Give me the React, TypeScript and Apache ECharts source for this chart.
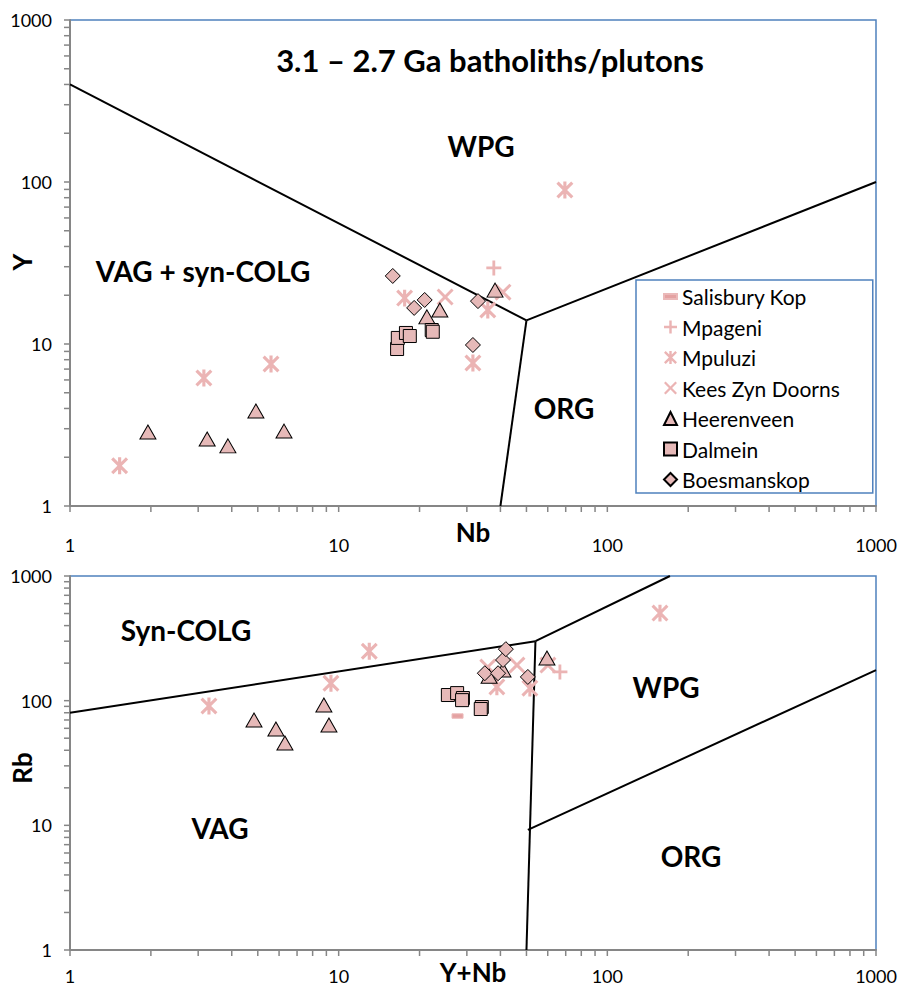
import React, { useEffect, useRef } from "react";
import * as echarts from "echarts";

// ---- Upper panel: Nb (x) vs Y (y) ----
const salisburyNb: number[] = [];
const salisburyY: number[] = [];
const mpageniNb = [37.8];
const mpageniY = [29.5];
const mpuluziNb = [1.53, 3.15, 5.6, 17.6, 35.9, 31.6, 69.5];
const mpuluziY = [1.77, 6.17, 7.53, 19.2, 16.2, 7.64, 89.3];
const keesNb = [24.9, 40.9];
const keesY = [19.5, 20.9];
const heerenveenNb = [1.95, 3.24, 3.87, 4.92, 6.26, 21.3, 23.8, 38.2];
const heerenveenY = [2.86, 2.59, 2.35, 3.86, 2.9, 14.7, 16.2, 21.5];
const dalmeinNb = [16.5, 16.6, 17.8, 18.4, 22.2, 22.4];
const dalmeinY = [9.31, 10.9, 11.7, 11.2, 12.2, 11.9];
const boesmanskopNb = [15.9, 20.9, 19.1, 33.0, 31.6];
const boesmanskopY = [26.3, 18.7, 16.7, 18.4, 9.86];

// ---- Lower panel: Y+Nb (x) vs Rb (y) ----
const salisburyYNb = [27.7];
const salisburyRb = [75.3];
const mpageniYNb = [66.6];
const mpageniRb = [170];
const mpuluziYNb = [3.29, 9.36, 13.0, 38.8, 51.5, 157];
const mpuluziRb = [90.5, 138, 249, 129, 126, 504];
const keesYNb = [35.9, 46.1, 60.1];
const keesRb = [186, 193, 193];
const heerenveenYNb = [4.84, 5.84, 6.31, 8.81, 9.2, 36.3, 40.9, 59.6];
const heerenveenRb = [69.9, 59.2, 45.7, 92.2, 63.7, 157, 176, 220];
const dalmeinYNb = [25.5, 27.6, 29.0, 28.8, 34.1, 33.8];
const dalmeinRb = [111, 115, 105, 101, 88.9, 85.7];
const boesmanskopYNb = [35.0, 39.2, 40.9, 41.9, 50.6];
const boesmanskopRb = [166, 166, 212, 259, 155];

// ---- Discrimination boundaries (Pearce et al. 1984) ----
const nbYBoundaries = [
  [[1, 400], [50, 14]],
  [[50, 14], [1000, 100]],
  [[50, 14], [40, 1]],
];
const ynbRbBoundaries = [
  [[1, 80], [54, 300]],
  [[54, 300], [171, 1000]],
  [[54, 300], [50, 1]],
  [[50.6, 9.2], [1000, 176]],
];

// log axis decades and the tick marks drawn along them
const tickValues = [1, 10, 100, 1000];
const tickMarks = [
  1, 2, 3, 4, 5, 6, 7, 8, 9,
  10, 20, 30, 40, 50, 60, 70, 80, 90,
  100, 200, 300, 400, 500, 600, 700, 800, 900,
  1000,
];

const seriesNames = [
  "Salisbury Kop",
  "Mpageni",
  "Mpuluzi",
  "Kees Zyn Doorns",
  "Heerenveen",
  "Dalmein",
  "Boesmanskop",
];

// symbol outlines
type Pt = [number, number];
const ring = (pts: Pt[]) =>
  "M" + pts.map((p) => p[0].toFixed(2) + "," + p[1].toFixed(2)).join("L") + "Z";
const plusPts = (h: number, L: number): Pt[] => [
  [h, -L], [h, -h], [L, -h], [L, h], [h, h], [h, L],
  [-h, L], [-h, h], [-L, h], [-L, -h], [-h, -h], [-h, -L],
];
const rot45 = (pts: Pt[]): Pt[] =>
  pts.map(([x, y]) => [(x - y) / Math.SQRT2, (x + y) / Math.SQRT2] as Pt);
const rectPts = (hw: number, hh: number): Pt[] => [
  [-hw, -hh], [hw, -hh], [hw, hh], [-hw, hh],
];

const PLUS = "path://" + ring(plusPts(1.5, 8));
const CROSS = "path://" + ring(rot45(plusPts(1.4, 10)));
const STAR = "path://" + ring(rot45(plusPts(1.5, 10))) + " " + ring(rectPts(1.5, 8.1));
const DASH = "path://" + ring(rectPts(5, 2));

const LINE_PINK = "#EBB4B4";
const FILL_PINK = "#E6B9B8";
const FONT = "Lato";
const AXIS_GRAY = "#868686";

const zip = (xs: number[], ys: number[]) => xs.map((x, i) => [x, ys[i]]);

function App() {
  const ref = useRef<HTMLDivElement>(null);

  useEffect(() => {
    if (!ref.current) return;
    const chart = echarts.init(ref.current, undefined, { renderer: "svg" });

    const logAxis = (gridIndex: number, labelMargin: number) => ({
      type: "log" as const,
      logBase: 10,
      min: tickValues[0],
      max: tickValues[tickValues.length - 1],
      gridIndex,
      axisLine: { show: true, onZero: false, lineStyle: { color: AXIS_GRAY, width: 2 } },
      axisTick: { show: false },
      minorTick: { show: false },
      splitLine: { show: false },
      minorSplitLine: { show: false },
      axisLabel: {
        fontFamily: FONT,
        fontSize: 18,
        color: "#000",
        margin: labelMargin,
        formatter: (v: number) => String(v),
      },
    });

    // tick marks on the outside of the left and bottom axes
    const tickSeries = (idx: number, dir: "x" | "y") => ({
      type: "custom" as const,
      xAxisIndex: idx,
      yAxisIndex: idx,
      silent: true,
      z: 4,
      data: tickMarks.map((v) => (dir === "x" ? [v, 1] : [1, v])),
      renderItem: (_params: any, api: any) => {
        const p = api.coord([api.value(0), api.value(1)]);
        const shape =
          dir === "x"
            ? { x1: p[0], y1: p[1] + 1, x2: p[0], y2: p[1] + 6 }
            : { x1: p[0] - 6, y1: p[1], x2: p[0] - 1, y2: p[1] };
        return {
          type: "line",
          shape,
          style: { stroke: AXIS_GRAY, lineWidth: 1.5 },
        };
      },
    });

    const scatterDefs = [
      { name: "Salisbury Kop", symbol: DASH, size: 11, style: { color: "#E4A2A2", borderColor: "#EBB9B9", borderWidth: 1 }, top: zip(salisburyNb, salisburyY), bottom: zip(salisburyYNb, salisburyRb) },
      { name: "Mpageni", symbol: PLUS, size: 15, style: { color: LINE_PINK }, top: zip(mpageniNb, mpageniY), bottom: zip(mpageniYNb, mpageniRb) },
      { name: "Mpuluzi", symbol: STAR, size: 17, style: { color: LINE_PINK }, top: zip(mpuluziNb, mpuluziY), bottom: zip(mpuluziYNb, mpuluziRb) },
      { name: "Kees Zyn Doorns", symbol: CROSS, size: 17, style: { color: LINE_PINK }, top: zip(keesNb, keesY), bottom: zip(keesYNb, keesRb) },
      { name: "Heerenveen", symbol: "triangle", size: [16, 14], style: { color: FILL_PINK, borderColor: "#000", borderWidth: 1 }, top: zip(heerenveenNb, heerenveenY), bottom: zip(heerenveenYNb, heerenveenRb) },
      { name: "Dalmein", symbol: "rect", size: 13, style: { color: FILL_PINK, borderColor: "#000", borderWidth: 1 }, top: zip(dalmeinNb, dalmeinY), bottom: zip(dalmeinYNb, dalmeinRb) },
      { name: "Boesmanskop", symbol: "diamond", size: 15, style: { color: FILL_PINK, borderColor: "#000", borderWidth: 1 }, top: zip(boesmanskopNb, boesmanskopY), bottom: zip(boesmanskopYNb, boesmanskopRb) },
    ];

    const boundarySeries = (segs: number[][][], idx: number) =>
      segs.map((seg) => ({
        type: "line" as const,
        xAxisIndex: idx,
        yAxisIndex: idx,
        data: seg,
        showSymbol: false,
        symbol: "none",
        silent: true,
        lineStyle: { color: "#000", width: 2 },
        clip: true,
        z: 1,
      }));

    const scatterSeries: any[] = [];
    [0, 1].forEach((idx) => {
      scatterDefs.forEach((d) => {
        scatterSeries.push({
          type: "scatter",
          name: d.name,
          xAxisIndex: idx,
          yAxisIndex: idx,
          data: idx === 0 ? d.top : d.bottom,
          symbol: d.symbol,
          symbolSize: d.size,
          symbolKeepAspect: true,
          itemStyle: { ...d.style, opacity: 1 },
          z: 3,
        });
      });
    });

    const label = (text: string, x: number, y: number, size: number, rotation = 0) => ({
      type: "text" as const,
      x,
      y,
      rotation,
      style: {
        text,
        fill: "#000",
        font: `bold ${size}px ${FONT}`,
        textAlign: "center" as const,
        textVerticalAlign: "middle" as const,
        verticalAlign: "middle" as const,
      },
      z: 10,
    });

    chart.setOption({
      animation: false,
      backgroundColor: "#fff",
      textStyle: { fontFamily: FONT },
      grid: [
        { left: 70, top: 20, width: 806, height: 486, show: true, borderColor: "#4F81BD", borderWidth: 1.5, outerBoundsMode: "none" },
        { left: 70, top: 576, width: 806, height: 374, show: true, borderColor: "#4F81BD", borderWidth: 1.5, outerBoundsMode: "none" },
      ],
      xAxis: [logAxis(0, 30), logAxis(1, 17)],
      yAxis: [logAxis(0, 18), logAxis(1, 18)],
      legend: {
        data: seriesNames,
        orient: "vertical",
        left: 636,
        top: 280,
        backgroundColor: "#fff",
        borderColor: "#4F81BD",
        borderWidth: 1.5,
        padding: [6, 33, 3, 27],
        itemGap: 9.5,
        itemWidth: 13,
        itemHeight: 13,
        textStyle: { fontFamily: FONT, fontSize: 21, lineHeight: 20, color: "#000" },
        selectedMode: false,
        z: 20,
      },
      series: [
        ...boundarySeries(nbYBoundaries, 0),
        ...boundarySeries(ynbRbBoundaries, 1),
        tickSeries(0, "x"),
        tickSeries(0, "y"),
        tickSeries(1, "x"),
        tickSeries(1, "y"),
        ...scatterSeries,
      ],
      graphic: [
        label("3.1 \u2013 2.7 Ga batholiths/plutons", 490, 60, 31),
        label("WPG", 481, 146, 28),
        label("VAG + syn-COLG", 203, 271, 28),
        label("ORG", 564, 408, 28),
        label("Syn-COLG", 186, 630, 28),
        label("WPG", 666, 687, 28),
        label("VAG", 220, 828, 28),
        label("ORG", 691, 856, 28),
        label("Nb", 473, 532, 26),
        label("Y+Nb", 473, 972, 26),
        label("Y", 22, 262, 26, Math.PI / 2),
        label("Rb", 22, 768, 26, Math.PI / 2),
      ],
    });

    return () => chart.dispose();
  }, []);

  return (
    <div
      ref={ref}
      style={{ position: "absolute", left: 0, top: 0, width: 901, height: 988 }}
    />
  );
}

export default App;
